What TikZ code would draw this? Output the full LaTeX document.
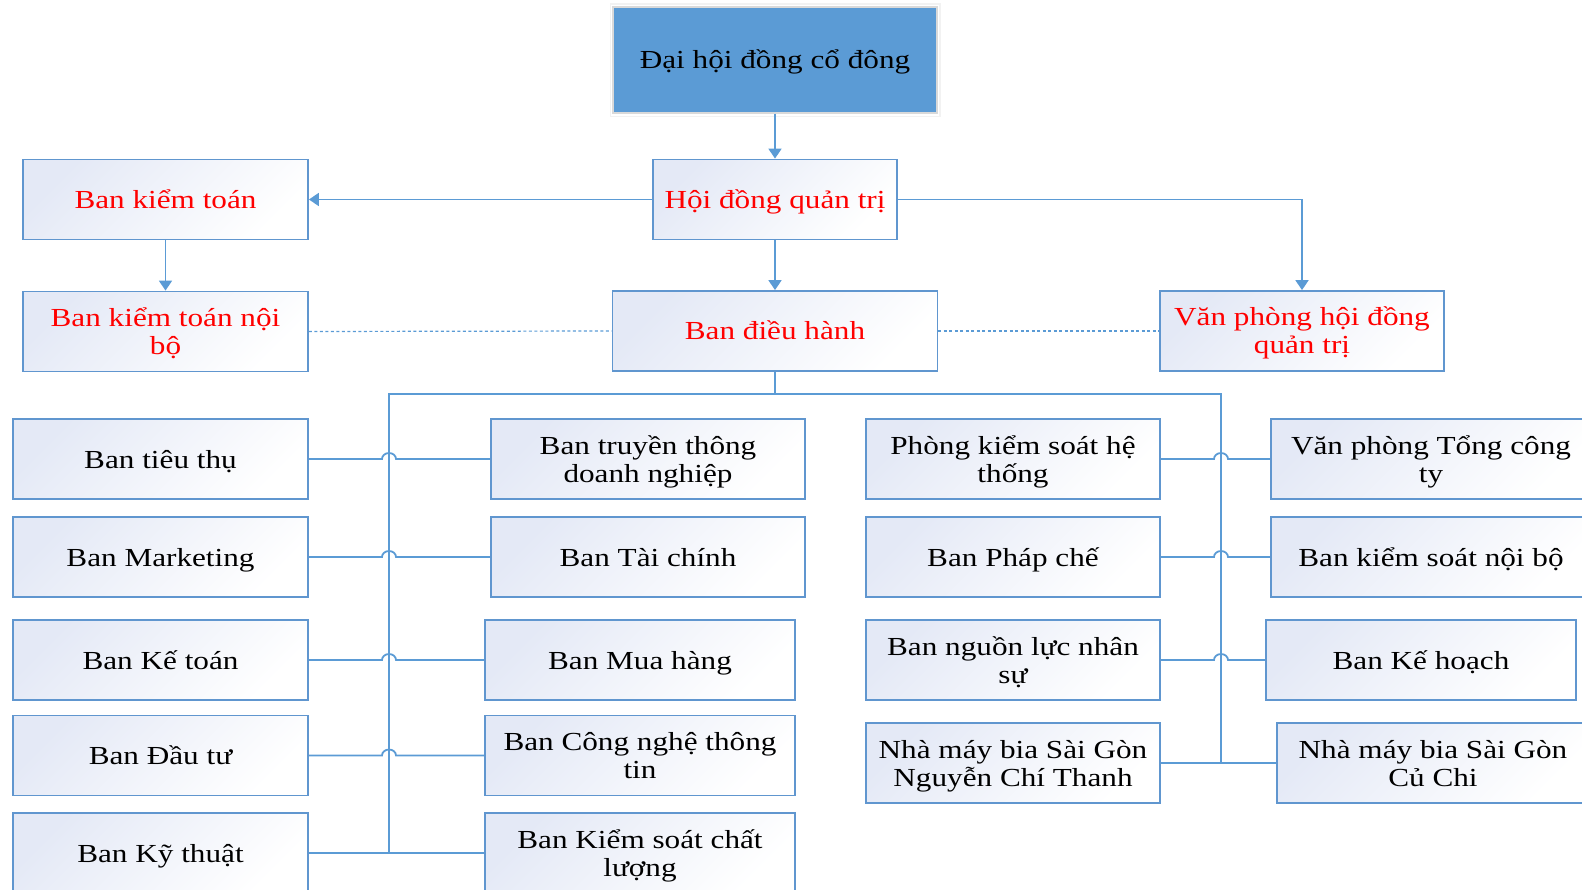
\documentclass[tikz,border=0pt]{standalone}
\usepackage{fontspec}
\setmainfont{Liberation Serif}[FakeStretch=1.2]
\usetikzlibrary{arrows.meta,calc}
\definecolor{lineblue}{HTML}{5B9BD5}
\definecolor{headfill}{HTML}{5B9BD5}
\definecolor{edgeblue}{HTML}{6096CF}
\definecolor{tintblue}{HTML}{E4E9F6}
% two centred lines, first baseline raised above the node baseline
\newcommand\twoline[2]{\raisebox{14pt}{\begin{tabular}[t]{@{}c@{}}#1\\#2\end{tabular}}}
\begin{document}
\begin{tikzpicture}[x=1pt,y=-1pt,
  unitbox/.style={draw=edgeblue, line width=1.8pt,
    top color=tintblue, bottom color=white, shading angle=45,
    minimum height=80pt, inner sep=0pt, text=black,
    text height=18pt, text depth=0pt,
    font=\fontsize{26}{28}\selectfont},
  redbox/.style={unitbox, text=red},
  headbox/.style={fill=headfill, draw=black!15, line width=1.5pt,
    minimum width=324pt, minimum height=106pt, inner sep=0pt,
    text height=18pt, text depth=0pt,
    font=\fontsize{26}{28}\selectfont},
  link/.style={draw=lineblue, line width=1.8pt},
  arr/.style={link, -{Triangle[width=13pt,length=10pt]}},
  dots/.style={draw=lineblue, line width=1.2pt, dash pattern=on 3pt off 2.5pt}]
\useasboundingbox (0,0) rectangle (1582,890);
\clip (0,0) rectangle (1582,890);

% governing bodies
\node[headbox] (dhcd) at (775,60) {Đại hội đồng cổ đông};
\draw[black!5, line width=1.5pt] ([shift={(-2,-2)}]dhcd.north west) rectangle ([shift={(2,3)}]dhcd.south east);
\node[redbox, minimum width=244pt] (hdqt) at (775,199.5) {Hội đồng quản trị};
\node[redbox, minimum width=285pt] (bkt) at (165.5,199.5) {Ban kiểm toán};
\node[redbox, minimum width=285pt] (bktnb) at (165.5,331.5) {\twoline{Ban kiểm toán nội}{bộ}};
\node[redbox, minimum width=325pt] (bdh) at (775,331) {Ban điều hành};
\node[redbox, minimum width=284pt] (vphd) at (1302,331) {\twoline{Văn phòng hội đồng}{quản trị}};

\draw[arr] (dhcd.south) -- (hdqt.north);
\draw[arr] (hdqt.west) -- (bkt.east);
\draw[arr] (hdqt.east) -| (vphd.north);
\draw[arr] (bkt.south) -- (bktnb.north);
\draw[arr] (hdqt.south) -- (bdh.north);
\draw[dots] (bktnb.east) -- (bdh.west);
\draw[dots] (bdh.east) -- (vphd.west);

% departments, first column
\node[unitbox, minimum width=295pt] (tt)  at (160.5,459)   {Ban tiêu thụ};
\node[unitbox, minimum width=295pt] (mk)  at (160.5,557)   {Ban Marketing};
\node[unitbox, minimum width=295pt] (kto) at (160.5,660)   {Ban Kế toán};
\node[unitbox, minimum width=295pt] (dt)  at (160.5,755.5) {Ban Đầu tư};
\node[unitbox, minimum width=295pt] (kt)  at (160.5,853)   {Ban Kỹ thuật};

% second column
\node[unitbox, minimum width=314pt] (ttdn) at (648,459)   {\twoline{Ban truyền thông}{doanh nghiệp}};
\node[unitbox, minimum width=314pt] (tc)   at (648,557)   {Ban Tài chính};
\node[unitbox, minimum width=310pt] (mh)   at (640,660)   {Ban Mua hàng};
\node[unitbox, minimum width=310pt] (cntt) at (640,755.5) {\twoline{Ban Công nghệ thông}{tin}};
\node[unitbox, minimum width=310pt] (kscl) at (640,853)   {\twoline{Ban Kiểm soát chất}{lượng}};

% third column
\node[unitbox, minimum width=294pt] (ksht) at (1013,459) {\twoline{Phòng kiểm soát hệ}{thống}};
\node[unitbox, minimum width=294pt] (pc)   at (1013,557) {Ban Pháp chế};
\node[unitbox, minimum width=294pt] (nl)   at (1013,660) {\twoline{Ban nguồn lực nhân}{sự}};
\node[unitbox, minimum width=294pt] (nct)  at (1013,763) {\twoline{Nhà máy bia Sài Gòn}{Nguyễn Chí Thanh}};

% fourth column
\node[unitbox, minimum width=320pt] (vptct) at (1431,459) {\twoline{Văn phòng Tổng công}{ty}};
\node[unitbox, minimum width=320pt] (ksnb)  at (1431,557) {Ban kiểm soát nội bộ};
\node[unitbox, minimum width=310pt] (kh)    at (1421,660) {Ban Kế hoạch};
\node[unitbox, minimum width=312pt] (cc)    at (1433,763) {\twoline{Nhà máy bia Sài Gòn}{Củ Chi}};

% distribution bus below the executive board
\coordinate (busL) at (389,394);
\coordinate (busR) at (1221,394);
\draw[link] (bdh.south) -- (bdh.south |- busL);
\draw[link] (busL |- kt.east) -- (busL) -- (busR) -- (busR |- nct.east);
\draw[link] (kt.east) -- (kscl.west);
\draw[link] (nct.east) -- (cc.west);

% row links hopping over the bus
\foreach \a/\b in {tt/ttdn, mk/tc, kto/mh, dt/cntt}
  \draw[link] (\a.east) -- ($(busL |- \a.east)+(-7,0)$)
    arc[start angle=180, end angle=0, x radius=7pt, y radius=6pt] -- (\b.west);
\foreach \a/\b in {ksht/vptct, pc/ksnb, nl/kh}
  \draw[link] (\a.east) -- ($(busR |- \a.east)+(-7,0)$)
    arc[start angle=180, end angle=0, x radius=7pt, y radius=6pt] -- (\b.west);
\end{tikzpicture}
\end{document}
